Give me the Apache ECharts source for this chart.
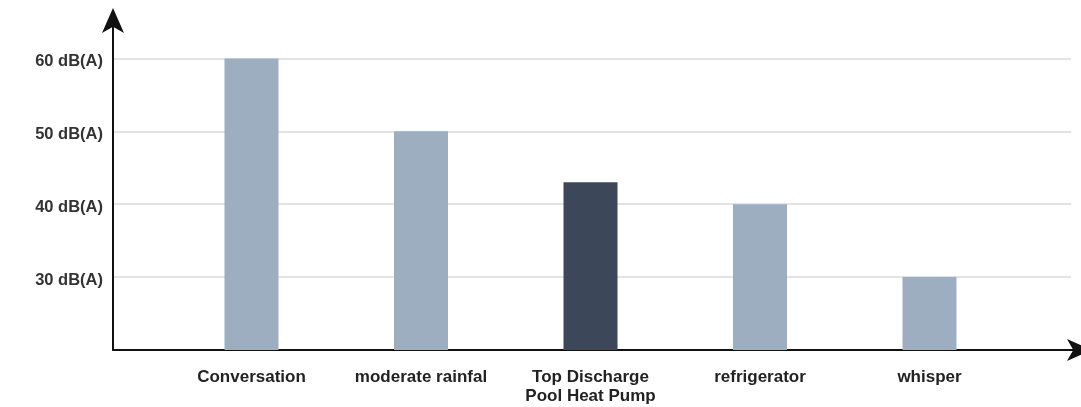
<!DOCTYPE html>
<html>
<head>
<meta charset="utf-8">
<script src="https://cdn.jsdelivr.net/npm/echarts@6/dist/echarts.min.js"></script>
<style>
html,body{margin:0;padding:0;background:#fff;}
#c{width:1081px;height:407px;}
</style>
</head>
<body>
<div id="c"></div>
<script>
const categories = ['Conversation', 'moderate rainfal', 'Top Discharge\nPool Heat Pump', 'refrigerator', 'whisper'];
const noiseLevels = [60, 50, 43, 40, 30];
const yTickUnit = ' dB(A)';
const highlighted = 'Top Discharge\nPool Heat Pump';

const Y_MIN = 20, Y_MAX = 65.2;
const light = '#9daec0', dark = '#3c4859';
const font = '"Liberation Sans", Arial, sans-serif';

const chart = echarts.init(document.getElementById('c'), null, {renderer: 'canvas'});
chart.setOption({
  animation: false,
  backgroundColor: '#ffffff',
  grid: [
    {left: 113, right: 10, top: 20.5, bottom: 57},
    {left: 166.75, right: 66.75, top: 20.5, bottom: 57},
    {left: 113, right: -5, top: 20.5, bottom: 57}
  ],
  xAxis: [
    {
      gridIndex: 0, type: 'value', min: 0, max: 1,
      axisLine: {show: false}, axisTick: {show: false}, axisLabel: {show: false}, splitLine: {show: false}
    },
    {
      gridIndex: 1, type: 'category', data: categories,
      axisLine: {show: false}, axisTick: {show: false}, splitLine: {show: false},
      axisLabel: {
        margin: 18, fontSize: 17, fontWeight: 'bold', color: '#222', fontFamily: font,
        lineHeight: 19, interval: 0
      }
    },
    {
      gridIndex: 2, type: 'value', min: 0, max: 1,
      axisLine: {show: true, lineStyle: {color: '#111', width: 2}, symbol: ['none', 'arrow'], symbolSize: [16.5, 25], symbolOffset: [0, 11]},
      axisTick: {show: false}, axisLabel: {show: false}, splitLine: {show: false}
    }
  ],
  yAxis: [
    {
      gridIndex: 0, type: 'value', min: Y_MIN, max: Y_MAX, interval: 10,
      axisLine: {show: true, lineStyle: {color: '#111', width: 2}, symbol: ['none', 'arrow'], symbolSize: [16.5, 25], symbolOffset: [0, 12.5]},
      axisTick: {show: false},
      axisLabel: {
        margin: 10, color: '#333',
        formatter: function (v) { return (v % 10 === 0 && v > Y_MIN) ? ('{t|' + v + yTickUnit + '}') : ''; },
        rich: {t: {fontSize: 16.5, fontWeight: 'bold', color: '#333', fontFamily: font, padding: [6, 0, 0, 0]}}
      },
      splitLine: {show: true, lineStyle: {color: ['rgba(0,0,0,0)', '#e3e3e3', '#e3e3e3', '#e3e3e3', '#e3e3e3', 'rgba(0,0,0,0)'], width: 2}}
    },
    {
      gridIndex: 1, type: 'value', min: Y_MIN, max: Y_MAX, show: false,
      splitLine: {show: false}
    },
    {
      gridIndex: 2, type: 'value', min: Y_MIN, max: Y_MAX, show: false,
      splitLine: {show: false}
    }
  ],
  series: [
    {
      type: 'bar', xAxisIndex: 1, yAxisIndex: 1, barWidth: 54,
      data: noiseLevels.map((v, i) => ({
        value: v,
        itemStyle: {color: categories[i] === highlighted ? dark : light}
      }))
    }
  ]
});
</script>
</body>
</html>
